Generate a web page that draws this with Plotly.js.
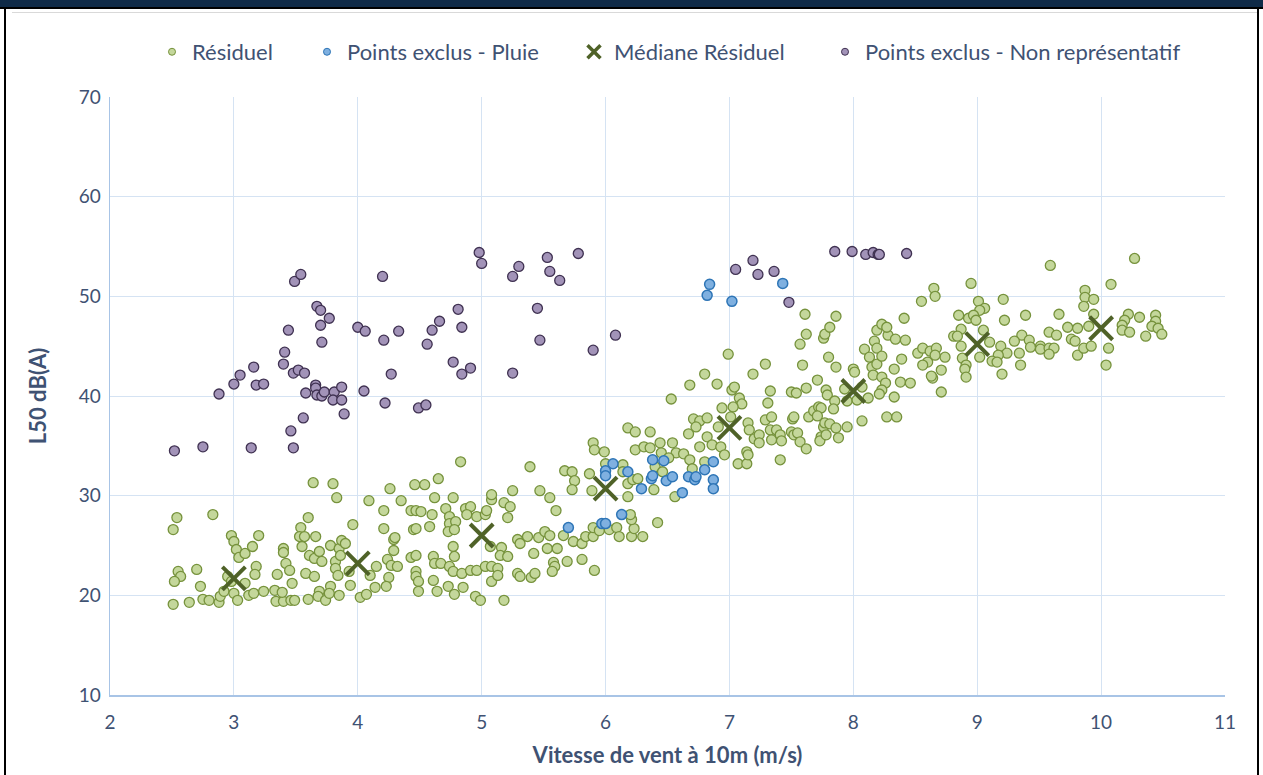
<!DOCTYPE html>
<html>
<head>
<meta charset="utf-8">
<script src="https://cdn.plot.ly/plotly-3.0.1.min.js"></script>
<style>
  html, body { margin: 0; padding: 0; background: #ffffff; }
  #wrap { position: relative; width: 1263px; height: 775px; overflow: hidden; }
  #chart { position: absolute; left: 0; top: 0; width: 1263px; height: 775px; }
  .deco { position: absolute; pointer-events: none; }
</style>
</head>
<body>
<div id="wrap">
  <div id="chart"></div>
  <div class="deco" style="left:0;top:0;width:1263px;height:7px;background:#0f2a47;"></div>
  <div class="deco" style="left:0;top:7px;width:1263px;height:2px;background:#000;"></div>
  <div class="deco" style="left:4px;top:7px;width:2px;height:768px;background:#000;"></div>
  <div class="deco" style="left:1257px;top:7px;width:2px;height:768px;background:#000;"></div>
  <div class="deco" style="left:12px;top:12px;width:1245px;height:1px;background:#d9d9d9;"></div>
</div>
<script>
// ---- Data ----
const resX = [
2.54,2.51,2.83,2.55,2.57,2.52,2.70,2.51,2.64,2.73,2.75,2.80,2.88,2.89,2.92,2.98,3.00,3.02,3.04,3.09,3.15,3.20,2.95,2.98,3.09,3.00,3.03,3.12,3.16,3.18,3.17,3.24,3.33,3.34,3.40,3.46,3.49,3.39,3.35,3.40,3.40,3.42,3.45,3.47,3.58,3.65,3.60,3.64,3.80,3.83,3.54,3.53,3.57,3.66,3.55,3.61,3.65,3.69,3.71,3.78,3.82,3.85,3.87,3.90,3.86,3.82,3.84,3.93,3.96,3.94,3.69,3.68,3.60,3.74,3.78,3.77,3.85,4.02,4.07,4.14,4.10,4.15,4.09,4.21,4.21,4.26,4.35,4.46,4.54,4.29,4.30,4.29,4.24,4.27,4.32,4.25,4.23,4.43,4.47,4.51,4.45,4.47,4.43,4.47,4.47,4.47,4.49,4.49,
4.65,4.62,4.77,4.83,4.71,4.60,4.74,4.74,4.79,4.73,4.78,4.58,4.87,4.91,4.88,4.96,5.03,5.04,5.08,5.08,5.18,5.23,5.21,5.25,5.07,5.16,5.15,5.21,4.77,4.78,4.61,4.62,4.67,4.74,4.77,4.84,4.91,4.96,5.03,5.08,5.13,5.08,5.13,4.61,4.64,4.73,4.78,4.85,4.95,4.99,5.18,5.29,5.31,5.40,5.43,5.42,5.29,5.31,5.37,5.46,5.51,5.55,5.53,5.61,5.58,5.59,5.57,5.69,5.81,5.91,5.60,5.47,5.55,5.39,5.67,5.73,5.75,5.73,5.66,5.74,5.81,5.84,5.90,5.90,5.95,6.03,6.09,6.11,6.21,6.30,6.23,6.21,6.20,6.42,5.87,5.90,5.91,5.99,5.89,6.00,6.14,6.18,6.24,6.36,6.14,6.18,6.18,6.22,6.26,6.24,6.31,6.36,6.44,6.45,6.40,6.39,6.56,6.54,6.57,6.51,6.46,
6.68,6.80,6.90,6.99,7.19,7.29,7.02,7.04,7.08,7.10,7.03,7.33,7.31,6.94,7.01,6.71,6.76,6.82,6.73,6.67,6.91,6.82,6.76,6.86,6.93,6.96,6.63,6.68,6.70,6.80,7.07,7.14,7.14,7.15,7.15,7.16,7.20,7.24,7.24,7.29,7.34,7.33,7.34,7.38,7.41,7.42,7.41,7.50,7.54,7.51,7.52,7.50,7.52,7.55,7.57,7.62,7.62,7.64,7.59,7.57,7.62,7.76,7.77,7.81,7.80,7.86,7.71,7.68,7.72,7.74,7.71,7.78,7.79,7.85,7.84,7.76,7.77,7.81,7.86,7.74,7.73,7.78,7.88,7.95,8.07,7.93,8.00,8.01,7.95,8.03,8.12,8.07,8.09,8.13,8.15,8.16,8.19,8.17,8.19,8.23,8.19,8.23,8.28,8.34,8.42,8.39,8.33,8.23,8.26,8.23,8.21,8.33,8.38,8.46,8.27,8.35,8.52,8.56,8.60,8.56,8.64,8.62,
7.61,7.86,8.27,8.41,8.55,8.65,8.66,8.95,8.71,8.74,8.71,8.67,8.66,8.63,6.53,
9.59,10.27,10.08,9.87,9.87,9.94,9.86,9.21,9.01,9.06,9.02,8.85,8.93,8.97,8.99,9.22,9.39,9.66,9.94,10.22,10.31,10.19,10.44,10.44,9.73,9.81,9.90,10.17,10.17,10.23,10.41,10.46,10.49,10.36,8.87,9.05,8.81,8.84,9.58,9.64,9.36,9.30,9.42,9.43,9.51,9.51,9.58,9.62,9.58,9.76,9.79,9.81,9.86,9.92,10.06,10.04,9.10,9.19,9.24,9.17,9.12,9.16,9.34,9.35,9.20,8.87,8.88,8.91,8.90,8.91,9.02
];
const resY = [
27.8,26.6,28.1,22.4,21.9,21.4,22.6,19.1,19.3,20.9,19.6,19.5,19.3,19.9,20.4,26.0,25.4,24.6,23.8,24.2,24.9,26.0,21.9,21.4,21.2,20.2,19.5,20.0,20.2,22.9,22.1,20.4,20.5,19.4,19.4,19.5,19.5,20.3,22.1,24.7,24.3,23.2,22.5,21.2,22.2,21.9,27.8,31.3,31.2,29.8,26.8,25.9,25.9,25.9,24.9,24.0,23.7,24.4,23.4,25.0,23.4,24.7,25.5,25.2,24.0,22.7,22.0,22.4,27.1,21.0,20.4,19.9,19.6,19.5,20.9,20.2,20.0,19.8,20.1,20.8,22.0,22.9,29.5,28.5,26.7,30.7,29.5,31.1,31.1,25.6,25.8,24.5,23.6,23.0,22.9,21.8,20.9,28.5,28.5,28.4,26.6,26.7,23.8,24.0,22.4,21.9,21.4,20.4,
31.7,29.8,29.8,33.4,28.7,28.1,27.9,27.2,27.4,26.4,26.6,26.9,28.7,28.9,28.1,27.9,28.1,28.5,29.6,30.1,29.3,28.9,27.8,30.5,24.9,24.8,24.0,23.9,24.9,23.9,23.9,23.2,23.2,22.9,22.4,22.2,22.5,22.5,22.9,22.9,22.7,21.4,22.0,21.5,20.4,20.9,20.1,20.8,19.9,19.5,19.5,22.2,21.9,21.8,22.2,24.2,25.6,25.2,25.9,25.8,26.4,26.0,24.7,24.7,23.3,22.9,22.4,23.4,23.6,22.5,28.5,30.5,29.8,32.9,32.5,32.4,31.5,30.6,26.0,25.4,25.2,25.9,25.9,26.8,26.5,26.6,26.8,25.9,25.9,25.9,26.7,27.6,28.1,27.3,32.2,35.3,34.6,34.4,30.5,33.2,33.1,36.8,36.4,36.4,32.4,31.2,29.9,31.6,31.7,34.6,34.9,34.8,35.3,34.3,32.9,30.6,29.9,35.3,34.3,33.8,32.4,
41.1,42.2,41.2,44.2,42.2,43.2,40.6,40.9,39.8,39.2,38.9,40.5,39.3,38.8,37.9,37.7,37.5,37.8,36.9,36.2,36.9,35.9,34.9,35.1,34.9,34.1,34.2,33.6,32.7,33.4,33.2,33.2,34.4,34.1,37.3,36.6,35.7,36.1,35.3,37.6,37.9,36.6,35.6,36.6,36.1,35.5,33.6,40.4,40.3,37.7,37.9,36.4,36.1,36.3,35.4,34.7,40.8,37.9,43.1,45.2,46.2,45.8,46.2,46.9,43.9,42.9,41.6,38.5,38.9,38.8,38.0,40.6,40.1,39.5,38.7,36.9,37.3,37.2,36.8,35.9,35.5,36.1,35.8,36.9,37.5,40.7,42.7,42.4,39.5,39.6,39.8,40.9,44.7,43.9,42.9,42.1,43.2,45.5,44.8,44.0,46.6,47.2,46.1,45.7,45.6,43.7,42.7,41.9,41.3,40.6,40.2,39.9,41.4,41.3,37.9,37.9,44.3,44.8,43.4,43.1,41.8,44.5,
48.2,48.0,46.9,47.8,49.5,50.8,50.0,51.3,42.6,43.9,40.4,44.8,44.1,42.0,39.7,
53.1,53.8,51.2,50.6,49.9,49.7,49.0,49.7,49.5,48.8,48.6,48.1,47.8,48.1,47.6,47.6,48.1,48.2,48.2,48.2,47.9,47.6,48.1,47.5,46.9,46.8,47.0,47.1,46.6,46.4,47.0,46.8,46.2,46.0,46.7,46.6,46.0,46.0,46.4,46.1,46.1,45.5,45.6,44.9,45.0,44.7,44.8,44.8,44.2,45.7,45.5,44.1,44.8,45.0,44.8,43.1,45.4,45.0,44.3,44.1,43.5,43.4,44.3,43.1,42.2,45.0,43.8,43.1,42.7,41.9,43.9
];

const pluieX = [6.84,6.82,7.02,7.43,6.06,6.00,6.00,6.18,6.38,6.47,6.37,6.38,6.29,6.49,6.54,6.67,6.72,6.73,6.80,6.87,6.87,6.87,6.62,6.13,5.97,6.00,5.70];
const pluieY = [51.2,50.1,49.5,51.3,33.2,32.5,32.0,32.4,33.6,33.5,31.7,32.0,30.7,31.5,31.9,31.9,31.6,31.9,32.6,33.4,31.6,30.7,30.3,28.1,27.2,27.2,26.8];

const medX = [3, 4, 5, 6, 7, 8, 9, 10];
const medY = [21.7, 23.2, 26.0, 30.7, 36.8, 40.5, 45.2, 46.8];

const nonRepX = [2.52,2.75,3.14,3.48,2.88,3.00,3.05,3.16,3.18,3.24,3.40,3.41,3.44,3.49,3.54,3.48,3.52,3.57,3.58,3.56,3.46,3.67,3.70,3.77,3.70,3.71,3.66,3.66,3.67,3.71,3.73,3.81,3.80,3.87,3.87,3.89,4.00,4.06,4.05,4.20,4.21,4.33,4.27,4.22,4.49,4.55,4.56,4.60,4.66,4.81,4.84,4.77,4.84,4.91,4.98,5.00,
5.25,5.30,5.53,5.55,5.63,5.78,5.45,5.47,5.25,5.90,6.08,7.05,7.19,7.23,7.36,7.48,7.85,7.99,8.10,8.16,8.20,8.21,8.43];
const nonRepY = [34.5,34.9,34.8,34.8,40.2,41.2,42.1,42.9,41.1,41.2,43.2,44.4,46.6,51.5,52.2,42.3,42.6,42.3,40.3,37.8,36.5,49.0,48.6,47.8,47.1,45.4,41.1,40.8,40.1,40.0,40.4,40.4,39.6,40.9,39.6,38.2,46.9,46.5,40.5,52.0,45.6,46.5,42.2,39.3,38.8,39.1,45.2,46.6,47.5,48.7,46.9,43.4,42.2,42.8,54.4,53.3,
52.0,53.0,53.9,52.5,51.6,54.3,48.8,45.6,42.3,44.6,46.1,52.7,53.6,52.2,52.5,49.4,54.5,54.5,54.2,54.4,54.2,54.2,54.3];

const xTicks = [2,3,4,5,6,7,8,9,10,11];
const yTicks = [10,20,30,40,50,60,70];
const seriesNames = ['Résiduel', 'Points exclus - Pluie', 'Médiane Résiduel', 'Points exclus - Non représentatif'];

// ---- Styles ----
const txtColor = '#3f5273';
const fontFam = 'Lato, "Open Sans", sans-serif';

const mkRes   = { symbol: 'circle', size: 10, color: '#c4d79b', line: { color: '#76923c', width: 1.3 } };
const mkPluie = { symbol: 'circle', size: 10, color: '#7fb0e0', line: { color: '#2e75b6', width: 1.5 } };
const mkMed   = { symbol: 'x-thin', size: 23, color: '#4f6228', line: { color: '#4f6228', width: 4 } };
const mkNon   = { symbol: 'circle', size: 10, color: '#a293b8', line: { color: '#3f3151', width: 1.3 } };

const traces = [
  { name: seriesNames[0], x: resX, y: resY, type: 'scatter', mode: 'markers', marker: mkRes, showlegend: false },
  { name: seriesNames[1], x: pluieX, y: pluieY, type: 'scatter', mode: 'markers', marker: mkPluie, showlegend: false },
  { name: seriesNames[2], x: medX, y: medY, type: 'scatter', mode: 'markers', marker: mkMed, showlegend: false },
  { name: seriesNames[3], x: nonRepX, y: nonRepY, type: 'scatter', mode: 'markers', marker: mkNon, showlegend: false },
  // legend entries (smaller symbols, as in the reference legend)
  { name: seriesNames[0], x: [null], y: [null], type: 'scatter', mode: 'markers', legend: 'legend',
    marker: Object.assign({}, mkRes, { size: 7, line: { color: '#76923c', width: 1 } }) },
  { name: seriesNames[1], x: [null], y: [null], type: 'scatter', mode: 'markers', legend: 'legend2',
    marker: Object.assign({}, mkPluie, { size: 7, line: { color: '#2e75b6', width: 1 } }) },
  { name: seriesNames[2], x: [null], y: [null], type: 'scatter', mode: 'markers', legend: 'legend3',
    marker: Object.assign({}, mkMed, { size: 13, line: { color: '#4f6228', width: 3.5 } }) },
  { name: seriesNames[3], x: [null], y: [null], type: 'scatter', mode: 'markers', legend: 'legend4',
    marker: Object.assign({}, mkNon, { size: 7, line: { color: '#3f3151', width: 1 } }) }
];

function leg(px) {
  return {
    orientation: 'h', x: (px - 23 - 110) / 1115, xanchor: 'left', y: 1.0753, yanchor: 'middle',
    font: { family: fontFam, size: 22, color: txtColor }, itemsizing: 'trace',
    bgcolor: 'rgba(0,0,0,0)', borderwidth: 0
  };
}

const layout = {
  width: 1263, height: 775,
  margin: { l: 110, r: 38, t: 97, b: 80 },
  paper_bgcolor: '#ffffff', plot_bgcolor: '#ffffff',
  font: { family: fontFam, color: txtColor, size: 19 },
  showlegend: true,
  legend: leg(175), legend2: leg(330), legend3: leg(597), legend4: leg(848),
  xaxis: {
    range: [2, 11], tickvals: xTicks, ticktext: xTicks.map(String),
    showgrid: true, gridcolor: '#d5e3f3', gridwidth: 1,
    showline: true, linecolor: '#a8c4e6', linewidth: 1.5, mirror: false,
    zeroline: false, ticks: '', ticklen: 0, ticklabelstandoff: 10,
    tickfont: { family: fontFam, size: 19, color: txtColor },
    title: { text: 'Vitesse de vent à 10m (m/s)', standoff: 15,
             font: { family: fontFam, size: 22, color: txtColor, weight: 'bold' } }
  },
  yaxis: {
    range: [10, 70], tickvals: yTicks, ticktext: yTicks.map(String),
    showgrid: true, gridcolor: '#d5e3f3', gridwidth: 1,
    showline: true, linecolor: '#a8c4e6', linewidth: 1.5,
    zeroline: false, ticks: '', ticklen: 0, ticklabelstandoff: 4,
    tickfont: { family: fontFam, size: 19, color: txtColor },
    title: { text: 'L50 dB(A)', standoff: 26,
             font: { family: fontFam, size: 22, color: txtColor, weight: 'bold' } }
  }
};

Plotly.newPlot('chart', traces, layout, { displayModeBar: false, staticPlot: true });
</script>
</body>
</html>
